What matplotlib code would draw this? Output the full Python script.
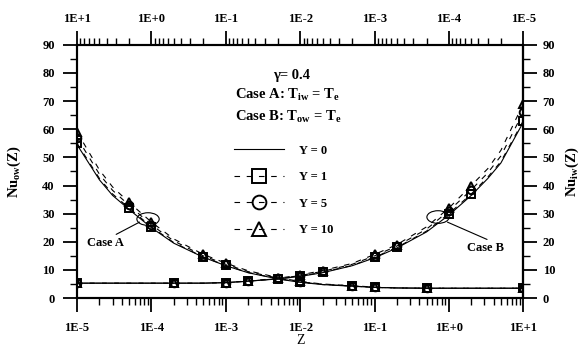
import numpy as np
import matplotlib
matplotlib.use("Agg")
import matplotlib.pyplot as plt
from matplotlib.patches import Ellipse
from matplotlib.ticker import FuncFormatter, FixedLocator, NullFormatter, MultipleLocator

plt.rcParams["font.family"] = ["Liberation Serif", "DejaVu Serif"]
plt.rcParams["font.weight"] = "bold"
plt.rcParams["mathtext.fontset"] = "custom"
plt.rcParams["mathtext.rm"] = "Liberation Serif:bold"
plt.rcParams["mathtext.it"] = "Liberation Serif:bold"
plt.rcParams["mathtext.bf"] = "Liberation Serif:bold"

# axial position grid (same for both cases; case B runs on the reversed top axis)
Z = [1e-5, 2e-5, 3e-5, 5e-5, 1e-4, 2e-4, 5e-4, 1e-3, 2e-3, 5e-3, 1e-2,
     2e-2, 5e-2, 1e-1, 2e-1, 5e-1, 1.0, 10.0]
MARKED = [0, 3, 4, 6, 7, 9, 10, 12, 13, 15, 17]

Y_LABELS = ["Y = 0", "Y = 1", "Y = 5", "Y = 10"]

# Case A: Nu_ow(Z)
nu_a = [
    [54.5, 42.0, 36.5, 31.5, 25.0, 19.5, 14.5, 11.5, 9.0, 6.8, 5.6, 4.8, 4.2, 3.8, 3.6, 3.5, 3.5, 3.5],
    [55.0, 42.5, 37.0, 32.0, 25.3, 19.7, 14.6, 11.6, 9.1, 6.9, 5.7, 4.8, 4.3, 3.8, 3.6, 3.5, 3.5, 3.5],
    [57.0, 44.0, 38.3, 33.0, 26.0, 20.3, 15.0, 12.0, 9.4, 7.1, 5.8, 4.9, 4.3, 3.8, 3.6, 3.5, 3.5, 3.5],
    [59.0, 45.5, 39.5, 34.0, 27.0, 21.0, 15.5, 12.4, 9.7, 7.3, 5.9, 5.0, 4.4, 3.9, 3.6, 3.5, 3.5, 3.5],
]
# Case B: Nu_iw(Z)
nu_b = [
    [62.5, 48.0, 42.5, 36.5, 29.5, 23.5, 17.8, 14.3, 11.5, 9.0, 7.7, 6.8, 6.0, 5.5, 5.3, 5.3, 5.3, 5.3],
    [63.0, 48.5, 43.0, 37.0, 30.0, 23.8, 18.0, 14.5, 11.6, 9.2, 7.8, 6.8, 6.0, 5.5, 5.3, 5.3, 5.3, 5.3],
    [66.0, 50.5, 44.5, 38.5, 31.0, 24.5, 18.5, 15.0, 12.0, 9.5, 8.0, 6.9, 6.0, 5.5, 5.3, 5.3, 5.3, 5.3],
    [69.0, 52.5, 46.0, 40.0, 32.0, 25.3, 19.0, 15.5, 12.3, 9.8, 8.2, 7.0, 6.1, 5.5, 5.3, 5.3, 5.3, 5.3],
]

DECADES = [1e-5, 1e-4, 1e-3, 1e-2, 1e-1, 1.0, 10.0]

styles = [
    dict(ls="-", marker=None),
    dict(ls=(0, (5, 6)), marker="s"),
    dict(ls=(0, (5, 6)), marker="o"),
    dict(ls=(0, (5, 6)), marker="^"),
]

fig = plt.figure(figsize=(5.84, 3.45), dpi=100)
ax = fig.add_axes([0.132, 0.136, 0.764, 0.734])
ax2 = ax.twiny()

handles = []
for i in range(4):
    kw = dict(color="black", lw=0.8, ls=styles[i]["ls"], marker=styles[i]["marker"],
              ms=5.5, mew=1.4, mfc="none", markevery=MARKED)
    h, = ax.plot(Z, nu_a[i], label=Y_LABELS[i], **kw)
    ax2.plot(Z, nu_b[i], **kw)
    handles.append(h)

ax.set_xscale("log")
ax.set_xlim(1e-5, 10)
ax2.set_xscale("log")
ax2.set_xlim(10, 1e-5)
ax.set_ylim(0, 90)

minor = [d * k for d in DECADES[:-1] for k in range(2, 10)]
fmt = FuncFormatter(lambda v, p: "1E%+d" % round(np.log10(v)))
for a, pad in ((ax, 7), (ax2, 4)):
    a.xaxis.set_major_locator(FixedLocator(DECADES))
    a.xaxis.set_minor_locator(FixedLocator(minor))
    a.xaxis.set_major_formatter(fmt)
    a.xaxis.set_minor_formatter(NullFormatter())
    for s in a.spines.values():
        s.set_linewidth(1.5)
    a.tick_params(axis="x", which="major", length=10, width=1.3, direction="out",
                  labelsize=9, pad=pad)
    a.tick_params(axis="x", which="minor", length=5, width=1.0, direction="out")

ax.yaxis.set_major_locator(MultipleLocator(10))
ax.yaxis.set_minor_locator(MultipleLocator(5))
ax.tick_params(axis="y", which="major", length=10, width=1.3, labelsize=9, pad=6)
ax.tick_params(axis="y", which="minor", length=5, width=1.0)

sec = ax.secondary_yaxis("right")
sec.yaxis.set_major_locator(MultipleLocator(10))
sec.yaxis.set_minor_locator(MultipleLocator(5))
sec.tick_params(axis="y", which="major", length=10, width=1.3, labelsize=9, pad=4)
sec.tick_params(axis="y", which="minor", length=5, width=1.0)
sec.spines["right"].set_linewidth(1.5)

ax.set_ylabel(r"$\mathrm{Nu_{ow}(Z)}$", fontsize=10.5, labelpad=14)
sec.set_ylabel(r"$\mathrm{Nu_{iw}(Z)}$", fontsize=10.5, labelpad=6)
ax.set_xlabel("Z", fontsize=10, labelpad=0)

ax.text(0.48, 0.865, "γ= 0.4", transform=ax.transAxes, fontsize=10.5, ha="center")
ax.text(0.355, 0.785, r"Case A: T$_{\mathrm{iw}}$ = T$_{\mathrm{e}}$", transform=ax.transAxes,
        fontsize=10.5)
ax.text(0.355, 0.70, r"Case B: T$_{\mathrm{ow}}$ = T$_{\mathrm{e}}$", transform=ax.transAxes,
        fontsize=10.5)

ax.legend(handles=handles, loc="upper left", bbox_to_anchor=(0.34, 0.625),
          frameon=False, fontsize=9, handlelength=4.0, handletextpad=1.2,
          labelspacing=1.15, markerscale=1.8, borderaxespad=0)

# circled groups with leader lines
ax.add_patch(Ellipse((0.159, 0.312), 0.05, 0.05, transform=ax.transAxes,
                     fill=False, lw=0.8, color="black"))
ax.annotate("Case A", xy=(0.14, 0.30), xycoords="axes fraction",
            xytext=(0.022, 0.205), textcoords="axes fraction", fontsize=9,
            arrowprops=dict(arrowstyle="-", lw=0.8, color="black",
                            shrinkA=0, shrinkB=0, relpos=(0.65, 1.0)))
ax.add_patch(Ellipse((0.809, 0.32), 0.05, 0.05, transform=ax.transAxes,
                     fill=False, lw=0.8, color="black"))
ax.annotate("Case B", xy=(0.83, 0.30), xycoords="axes fraction",
            xytext=(0.875, 0.185), textcoords="axes fraction", fontsize=9,
            arrowprops=dict(arrowstyle="-", lw=0.8, color="black",
                            shrinkA=0, shrinkB=0, relpos=(0.7, 1.0)))

fig.savefig("out.png", dpi=100)
